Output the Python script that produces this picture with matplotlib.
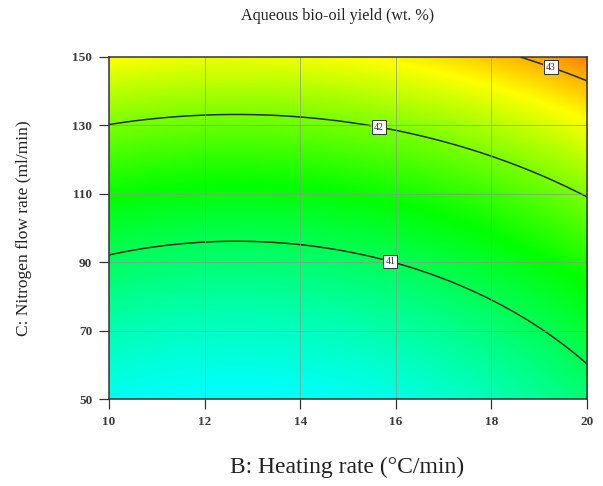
import numpy as np
import matplotlib

matplotlib.use("Agg")
import matplotlib.pyplot as plt
from matplotlib.colors import LinearSegmentedColormap

plt.rcParams["font.family"] = ["Liberation Serif", "DejaVu Serif"]

# Factor ranges
heating_rate = [10, 20]        # B, °C/min
nitrogen_flow = [50, 150]      # C, ml/min
x_ticks = [10, 12, 14, 16, 18, 20]
y_ticks = [50, 70, 90, 110, 130, 150]
contour_levels = [41, 42, 43]
label_spots = [(15.9, 91.0), (15.65, 130.0), (19.25, 147.5)]

# Quadratic model in coded units: b0, B, C, B^2, C^2, BC
coef = {"b0": 41.16, "B": 0.297, "C": 1.19, "BB": 0.318, "CC": 0.271, "BC": 0.0}

x = np.linspace(heating_rate[0], heating_rate[1], 300)
y = np.linspace(nitrogen_flow[0], nitrogen_flow[1], 300)
X, Y = np.meshgrid(x, y)
Bc = (X - 15) / 5
Cc = (Y - 100) / 50
Z = (coef["b0"] + coef["B"] * Bc + coef["C"] * Cc + coef["BB"] * Bc**2
     + coef["CC"] * Cc**2 + coef["BC"] * Bc * Cc)

cmap = LinearSegmentedColormap.from_list(
    "rsm", ["#0000ff", "#00ffff", "#00ff00", "#ffff00", "#ff0000"])

fig = plt.figure(figsize=(6.03, 4.86), dpi=100)
ax = fig.add_axes([109 / 603, 1 - 399 / 486, 478 / 603, 342 / 486])
ax.imshow(Z, origin="lower", extent=[10, 20, 50, 150], aspect="auto",
          cmap=cmap, vmin=38.94, vmax=43.86, interpolation="bilinear")
cs = ax.contour(X, Y, Z, levels=contour_levels, colors="#1f3315", linewidths=1.1)
labels = ax.clabel(cs, fmt="%d", fontsize=7, manual=label_spots, inline=True,
                   inline_spacing=3)
for t in labels:
    t.set_bbox(dict(boxstyle="square,pad=0.22", fc="white", ec="#333333", lw=0.7))
    t.set_rotation(0)
    t.set_color("#334")

for v in x_ticks[1:-1]:
    ax.axvline(v, color="#8a9a80", lw=0.7, alpha=0.7)
for v in y_ticks[1:-1]:
    ax.axhline(v, color="#8a9a80", lw=0.7, alpha=0.7)

ax.set_xlim(10, 20)
ax.set_ylim(50, 150)
ax.set_xticks(x_ticks)
ax.set_yticks(y_ticks)
ax.tick_params(direction="out", length=7, width=0.9, labelsize=9.5, color="#333333",
               pad=5)
for lab in ax.get_xticklabels() + ax.get_yticklabels():
    lab.set_fontweight("bold")
    lab.set_color("#3a3a3a")
for s in ax.spines.values():
    s.set_color("#333333")
    s.set_linewidth(1.1)

ax.set_xlabel("B: Heating rate (°C/min)", fontsize=17, color="#222222", va="center")
ax.xaxis.set_label_coords(0.497, (399 - 467) / 342)
ax.set_ylabel("C: Nitrogen flow rate (ml/min)", fontsize=12.5, color="#222222",
              va="center")
ax.yaxis.set_label_coords((24 - 109) / 478, 0.5)
fig.text(338 / 603, 1 - 16 / 486, "Aqueous bio-oil yield (wt. %)",
         ha="center", va="center", fontsize=11.6, color="#222222")

fig.savefig("out.png", dpi=100)
